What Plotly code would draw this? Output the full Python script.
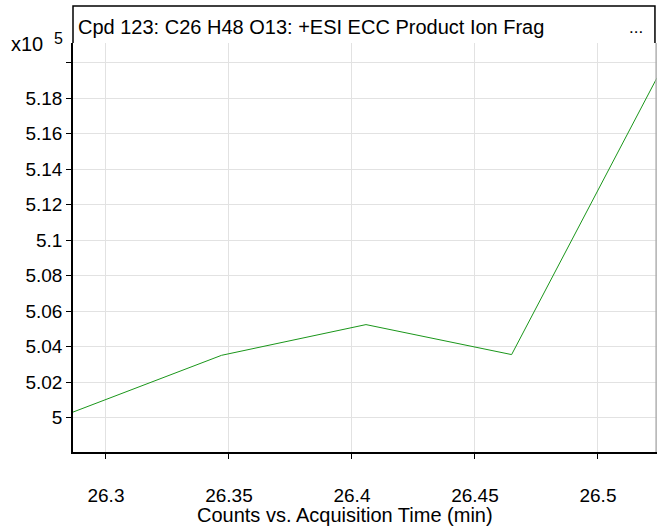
import plotly.graph_objects as go

# Data (counts x10^5 vs acquisition time in min)
acq_time = [26.2866, 26.347, 26.4057, 26.4649, 26.524]
counts_e5 = [5.0031, 5.0351, 5.0524, 5.0355, 5.1915]

x_ticks = [26.3, 26.35, 26.4, 26.45, 26.5]
x_tick_text = ["26.3", "26.35", "26.4", "26.45", "26.5"]
y_ticks = [5.0, 5.02, 5.04, 5.06, 5.08, 5.1, 5.12, 5.14, 5.16, 5.18, 5.2]
y_tick_text = ["5", "5.02", "5.04", "5.06", "5.08", "5.1", "5.12", "5.14", "5.16", "5.18", ""]

title_text = "Cpd 123: C26 H48 O13: +ESI ECC Product Ion Frag"
x_title = "Counts vs. Acquisition Time (min)"

FONT = "Liberation Sans, Arial, sans-serif"

fig = go.Figure()
fig.add_trace(go.Scatter(
    x=acq_time, y=counts_e5, mode="lines",
    line=dict(color="#1a961a", width=1),
    hoverinfo="skip", showlegend=False,
))

W, H = 658, 529
ml, mr, mt, mb = 73, 1, 43, 77
ph = H - mt - mb

fig.update_layout(
    width=W, height=H,
    margin=dict(l=ml, r=mr, t=mt, b=mb),
    paper_bgcolor="white", plot_bgcolor="white",
    font=dict(family=FONT, size=19, color="black"),
    xaxis=dict(
        range=[26.2866, 26.524], tickvals=x_ticks, ticktext=x_tick_text,
        showgrid=True, gridcolor="#e2e2e2", gridwidth=1,
        zeroline=False, showline=True, linecolor="black", linewidth=2,
        ticks="outside", ticklen=5, tickcolor="black", tickwidth=1,
        ticklabelstandoff=20, tickfont=dict(size=19),
    ),
    yaxis=dict(
        range=[4.9806, 5.2111], tickvals=y_ticks, ticktext=y_tick_text,
        showgrid=True, gridcolor="#e2e2e2", gridwidth=1,
        zeroline=False, showline=True, linecolor="black", linewidth=1.5,
        ticks="outside", ticklen=5, tickcolor="black", tickwidth=1,
        tickfont=dict(size=19),
    ),
)

top_y = 1 + (mt - 6) / ph
fig.add_shape(type="path", xref="paper", yref="paper",
              path=f"M 0 1 L 0 {top_y} L 0.9965 {top_y} L 0.9965 1",
              line=dict(color="black", width=1.5))
fig.add_shape(type="line", xref="paper", yref="paper",
              x0=0.9985, x1=0.9985, y0=0, y1=1,
              line=dict(color="#b0b0b0", width=1.5))

def px_to_paper_y(py):
    return (H - mb - py) / ph

def px_to_paper_x(px):
    return (px - ml) / (W - ml - mr)

fig.add_annotation(text=title_text, xref="paper", yref="paper",
                   x=px_to_paper_x(76), y=px_to_paper_y(27),
                   xanchor="left", yanchor="middle", showarrow=False,
                   font=dict(size=20))
fig.add_annotation(text="...", xref="paper", yref="paper",
                   x=px_to_paper_x(645), y=px_to_paper_y(27),
                   xanchor="right", yanchor="middle", showarrow=False,
                   font=dict(size=17))
fig.add_annotation(text="x10", xref="paper", yref="paper",
                   x=px_to_paper_x(9), y=px_to_paper_y(44),
                   xanchor="left", yanchor="middle", showarrow=False,
                   font=dict(size=20))
fig.add_annotation(text="5", xref="paper", yref="paper",
                   x=px_to_paper_x(52), y=px_to_paper_y(38),
                   xanchor="left", yanchor="middle", showarrow=False,
                   font=dict(size=16))
fig.add_annotation(text=x_title, xref="paper", yref="paper",
                   x=px_to_paper_x(345), y=px_to_paper_y(515),
                   xanchor="center", yanchor="middle", showarrow=False,
                   font=dict(size=20))

fig.write_html("out.html", config={"displayModeBar": False},
               post_script="document.body.style.margin='0';document.body.style.overflow='hidden';")
